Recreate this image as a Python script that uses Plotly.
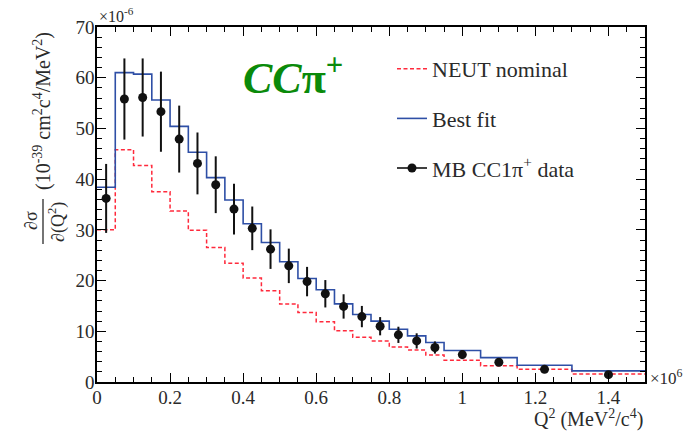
import plotly.graph_objects as go

# ---- data (Q^2 in units of 10^6 MeV^2/c^4, cross-section in 10^-6 x 10^-39 cm^2 c^4/MeV^2) ----
bin_edges = [0.0, 0.05, 0.10, 0.15, 0.20, 0.25, 0.30, 0.35, 0.40, 0.45, 0.50,
             0.55, 0.60, 0.65, 0.70, 0.75, 0.80, 0.85, 0.90, 0.95, 1.05, 1.15, 1.30, 1.50]
data_q2 = [0.025, 0.075, 0.125, 0.175, 0.225, 0.275, 0.325, 0.375, 0.425, 0.475, 0.525,
           0.575, 0.625, 0.675, 0.725, 0.775, 0.825, 0.875, 0.925, 1.0, 1.1, 1.225, 1.4]
data_xsec = [36.2, 55.8, 56.1, 53.3, 47.9, 43.1, 38.9, 34.1, 30.3, 26.2, 22.9,
             19.8, 17.4, 14.9, 12.9, 11.0, 9.3, 8.1, 6.8, 5.4, 3.9, 2.5, 1.45]
data_err = [6.8, 8.0, 7.7, 7.9, 6.6, 6.1, 5.6, 5.0, 4.3, 3.9, 3.4,
            2.9, 2.7, 2.4, 2.1, 1.8, 1.6, 1.5, 1.2, 0.9, 0.6, 0.4, 0.3]
neut_nominal = [30.0, 45.8, 42.7, 37.5, 33.7, 29.9, 26.5, 23.4, 20.5, 18.0, 15.4,
                13.7, 11.9, 10.1, 8.8, 8.1, 6.9, 6.3, 5.3, 4.3, 3.2, 2.5, 1.6]
best_fit = [38.4, 61.0, 60.7, 55.6, 50.4, 45.3, 40.3, 35.9, 31.2, 27.5, 23.7,
            20.4, 18.2, 15.4, 13.3, 12.0, 10.4, 9.1, 7.8, 6.2, 4.8, 3.3, 2.2]
x_tick_vals = [0, 0.2, 0.4, 0.6, 0.8, 1.0, 1.2, 1.4]
y_tick_vals = [0, 10, 20, 30, 40, 50, 60, 70]

W, H = 687, 434
ML, MR, MT, MB = 97, 42, 27, 52
PW, PH = W - ML - MR, H - MT - MB


def px(x):
    return (x - ML) / PW


def py(y):
    return (H - MB - y) / PH


SERIF = "Liberation Serif, Times New Roman, serif"
TXT = "#2a2a2a"

fig = go.Figure()

fig.add_trace(go.Scatter(
    x=bin_edges, y=neut_nominal + [neut_nominal[-1]], mode="lines",
    line=dict(shape="hv", color="#ff2a3c", width=1.5, dash="4px,2.5px"),
    name="NEUT nominal", legendgroup="a"))

fig.add_trace(go.Scatter(
    x=bin_edges, y=best_fit + [best_fit[-1]], mode="lines",
    line=dict(shape="hv", color="#2e4fa6", width=1.6),
    name="Best fit", legendgroup="b"))

fig.add_trace(go.Scatter(
    x=data_q2, y=data_xsec, mode="markers",
    marker=dict(color="#111111", size=9),
    error_y=dict(type="data", array=data_err, visible=True, width=0,
                 thickness=2, color="#111111"),
    name="MB CC1π<sup>+</sup> data", legendgroup="c", showlegend=False))

# legend-only entry for the data (line + marker, ROOT-like "lep" symbol)
fig.add_trace(go.Scatter(
    x=[None], y=[None], mode="lines+markers",
    line=dict(color="#111111", width=1.6),
    marker=dict(color="#111111", size=9),
    name="MB CC1π<sup>+</sup> data", legendgroup="c"))

axis_common = dict(
    showline=True, linecolor="black", linewidth=1.5, mirror="ticks",
    ticks="inside", tickcolor="black", tickwidth=1.3, ticklen=9,
    showgrid=False, zeroline=False, ticklabelstandoff=-3,
    tickfont=dict(family=SERIF, size=19, color=TXT),
)

fig.update_xaxes(range=[0, 1.5], tickvals=x_tick_vals,
                 minor=dict(dtick=0.05, ticks="inside", ticklen=5, tickcolor="black", tickwidth=1.2),
                 **axis_common)
fig.update_yaxes(range=[0, 70], tickvals=y_tick_vals,
                 minor=dict(dtick=2, ticks="inside", ticklen=5, tickcolor="black", tickwidth=1.2),
                 **axis_common)


def ann(text, x, y, size, xanchor="center", yanchor="middle", angle=0, color=TXT, **kw):
    return dict(text=text, x=x, y=y, xref="paper", yref="paper", xanchor=xanchor,
                yanchor=yanchor, textangle=angle, showarrow=False,
                font=dict(family=SERIF, size=size, color=color, **kw))


annotations = [
    # big green label
    ann("<i>CC</i>π<sup>+</sup>", px(293), py(75), 44, color="#0a8a0a", weight="bold"),
    # y axis multiplier
    ann("×10<sup>-6</sup>", 0, 1.0, 16, xanchor="left", yanchor="bottom"),
    # x axis multiplier
    ann("×10<sup>6</sup>", px(648), py(377), 17, xanchor="left"),
    # x axis title
    ann("Q<sup>2</sup> (MeV<sup>2</sup>/c<sup>4</sup>)", 1.0, py(418), 20, xanchor="right"),
    # y axis title: units
    ann("(10<sup>-39</sup> cm<sup>2</sup>c<sup>4</sup>/MeV<sup>2</sup>)", px(42), py(111), 20, angle=-90),
    # y axis title: fraction numerator and denominator
    ann("∂σ", px(31), py(221), 18, angle=-90),
    ann("∂(Q<sup>2</sup>)", px(57), py(222), 18, angle=-90),
]

fig.update_layout(
    width=W, height=H, autosize=False,
    margin=dict(l=ML, r=MR, t=MT, b=MB, pad=0),
    paper_bgcolor="white", plot_bgcolor="white",
    annotations=annotations,
    shapes=[dict(type="line", xref="paper", yref="paper", x0=px(43), x1=px(43),
                 y0=py(199), y1=py(244), line=dict(color=TXT, width=1.3))],
    legend=dict(x=px(392), y=py(48), xanchor="left", yanchor="top",
                bgcolor="rgba(0,0,0,0)", font=dict(family=SERIF, size=22, color=TXT),
                traceorder="grouped", tracegroupgap=18),
    showlegend=True,
)

fig.write_html("out.html")
